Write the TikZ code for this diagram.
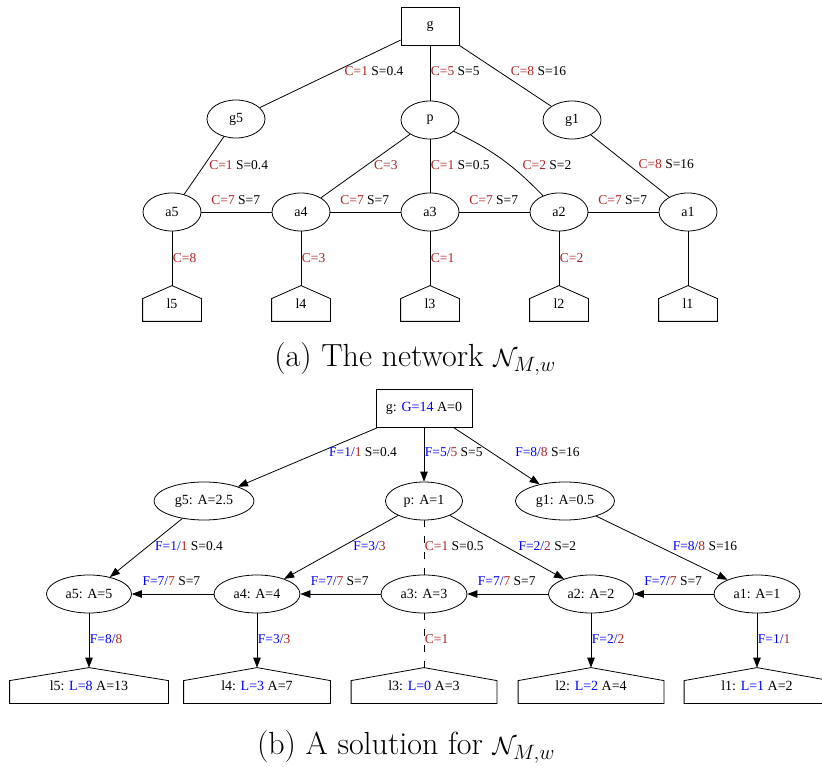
\documentclass[tikz,border=0pt]{standalone}
\usepackage{fontspec}
\usetikzlibrary{shapes.geometric, arrows.meta}
\newfontfamily\gvfont{Liberation Serif}
\definecolor{capred}{RGB}{178,34,34}
\definecolor{flowblue}{RGB}{0,0,255}
\newcommand{\cv}[1]{\textcolor{capred}{C=#1}}
\newcommand{\fv}[2]{\textcolor{flowblue}{F=#1/}\textcolor{capred}{#2}}
\newcommand{\bv}[1]{\textcolor{flowblue}{#1}}
\tikzset{
  gvnode/.style={draw, inner sep=0, font=\gvfont\fontsize{14}{16}\selectfont},
  sink/.style={gvnode, rectangle, minimum width=#1, minimum height=38},
  junction/.style={gvnode, ellipse, minimum width=#1, minimum height=38},
  leaf/.style={gvnode, draw=none, rectangle, minimum width=#1, minimum height=35},
  lbl/.style={inner sep=0.5pt, anchor=west, font=\gvfont\fontsize{13.5}{15}\selectfont},
  flow/.style={-{Triangle[length=10pt,width=7.5pt]}},
  idle/.style={dash pattern=on 7pt off 9pt},
  caption/.style={inner sep=0, font=\fontsize{32}{38}\selectfont},
}

\begin{document}
\begin{tikzpicture}[x=1pt, y=-1pt, line width=0.8pt]
  \useasboundingbox (0,0) rectangle (822,767);
  % (a) the network
  \node[sink=58] (g) at (430,26) {g};
  \node[junction=58] (g5) at (236,119) {g5};
  \node[junction=58] (p) at (430,120) {p};
  \node[junction=58] (g1) at (572,120) {g1};
  \node[junction=58] (a5) at (172,212) {a5};
  \node[junction=58] (a4) at (301,212) {a4};
  \node[junction=58] (a3) at (430,212) {a3};
  \node[junction=58] (a2) at (559,212) {a2};
  \node[junction=58] (a1) at (688,212) {a1};
  \node[leaf=58] (l5) at (172,303.5) {l5};
  \node[leaf=58] (l4) at (301,303.5) {l4};
  \node[leaf=58] (l3) at (430,303.5) {l3};
  \node[leaf=58] (l2) at (559,303.5) {l2};
  \node[leaf=58] (l1) at (688,303.5) {l1};

  \draw (g) -- node[lbl, pos=0.46, xshift=8] {\cv{1} S=0.4} (g5);
  \draw (g) -- node[lbl, pos=0.46] {\cv{5} S=5} (p);
  \draw (g) -- node[lbl, pos=0.42, xshift=12] {\cv{8} S=16} (g1);
  \draw (g5) -- node[lbl, pos=0.49, xshift=4] {\cv{1} S=0.4} (a5);
  \draw (p) -- node[lbl, pos=0.48, xshift=6] {\cv{3}} (a4);
  \draw (p) -- node[lbl, pos=0.48] {\cv{1} S=0.5} (a3);
  \draw (p) to[bend left=10] node[lbl, pos=0.6, xshift=12] {\cv{2} S=2} (a2);
  \draw (g1) -- node[lbl, pos=0.47, xshift=10] {\cv{8} S=16} (a1);
  \draw (a5) -- node[lbl, pos=0.13, yshift=12] {\cv{7} S=7} (a4);
  \draw (a4) -- node[lbl, pos=0.13, yshift=12] {\cv{7} S=7} (a3);
  \draw (a3) -- node[lbl, pos=0.13, yshift=12] {\cv{7} S=7} (a2);
  \draw (a2) -- node[lbl, pos=0.13, yshift=12] {\cv{7} S=7} (a1);
  \draw (a5) -- node[lbl, pos=0.49] {\cv{8}} (l5);
  \draw (a4) -- node[lbl, pos=0.49] {\cv{3}} (l4);
  \draw (a3) -- node[lbl, pos=0.49] {\cv{1}} (l3);
  \draw (a2) -- node[lbl, pos=0.49] {\cv{2}} (l2);
  \draw (a1) -- (l1);

  \node[caption] (capa) at (415,359) {(a) The network $\mathcal{N}_{M,w}$};

  % (b) a solution
  \node[sink=96] (sg) at (424,408) {g: \bv{G=14} A=0};
  \node[junction=100] (sg5) at (204,501) {g5: A=2.5};
  \node[junction=77] (sp) at (424,501) {p: A=1};
  \node[junction=99] (sg1) at (565,501) {g1: A=0.5};
  \node[junction=85] (sa5) at (89,594) {a5: A=5};
  \node[junction=86] (sa4) at (257,594) {a4: A=4};
  \node[junction=86] (sa3) at (424,594) {a3: A=3};
  \node[junction=85] (sa2) at (591,594) {a2: A=2};
  \node[junction=86] (sa1) at (757,594) {a1: A=1};
  \node[leaf=158] (sl5) at (89,685.5) {l5: \bv{L=8} A=13};
  \node[leaf=146] (sl4) at (257,685.5) {l4: \bv{L=3} A=7};
  \node[leaf=145] (sl3) at (424,685.5) {l3: \bv{L=0} A=3};
  \node[leaf=145] (sl2) at (591,685.5) {l2: \bv{L=2} A=4};
  \node[leaf=145] (sl1) at (757,685.5) {l1: \bv{L=1} A=2};

  \draw[flow] (sg) -- node[lbl, pos=0.42, xshift=9] {\fv{1}{1} S=0.4} (sg5);
  \draw[flow] (sg) -- node[lbl, pos=0.46] {\fv{5}{5} S=5} (sp);
  \draw[flow] (sg) -- node[lbl, pos=0.44, xshift=23] {\fv{8}{8} S=16} (sg1);
  \draw[flow] (sg5) -- node[lbl, pos=0.47, xshift=6] {\fv{1}{1} S=0.4} (sa5);
  \draw[flow] (sp) -- node[lbl, pos=0.48, xshift=9] {\fv{3}{3}} (sa4);
  \draw[idle] (sp) -- node[lbl, pos=0.47] {\cv{1} S=0.5} (sa3);
  \draw[flow] (sp) -- node[lbl, pos=0.48, xshift=13] {\fv{2}{2} S=2} (sa2);
  \draw[flow] (sg1) -- node[lbl, pos=0.47, xshift=14] {\fv{8}{8} S=16} (sa1);
  \draw[flow] (sa4) -- node[lbl, pos=0.88, yshift=13] {\fv{7}{7} S=7} (sa5);
  \draw[flow] (sa3) -- node[lbl, pos=0.88, yshift=13] {\fv{7}{7} S=7} (sa4);
  \draw[flow] (sa2) -- node[lbl, pos=0.88, yshift=13] {\fv{7}{7} S=7} (sa3);
  \draw[flow] (sa1) -- node[lbl, pos=0.88, yshift=13] {\fv{7}{7} S=7} (sa2);
  \draw[flow] (sa5) -- node[lbl, pos=0.47] {\fv{8}{8}} (sl5);
  \draw[flow] (sa4) -- node[lbl, pos=0.47] {\fv{3}{3}} (sl4);
  \draw[idle] (sa3) -- node[lbl, pos=0.47] {\cv{1}} (sl3);
  \draw[flow] (sa2) -- node[lbl, pos=0.47] {\fv{2}{2}} (sl2);
  \draw[flow] (sa1) -- node[lbl, pos=0.47] {\fv{1}{1}} (sl1);

  % house outlines of the leaves
  \foreach \n in {l1,l2,l3,l4,l5,sl1,sl2,sl3,sl4,sl5}
    \draw (\n.south west) -- ([yshift=-13pt]\n.north west) -- (\n.north)
      -- ([yshift=-13pt]\n.north east) -- (\n.south east) -- cycle;

  \node[caption] (capb) at (406,747) {(b) A solution for $\mathcal{N}_{M,w}$};
\end{tikzpicture}
\end{document}
